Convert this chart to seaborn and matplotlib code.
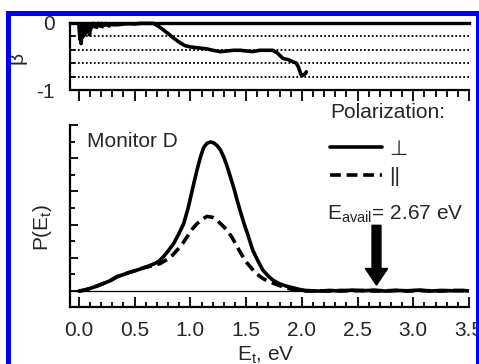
import numpy as np
import matplotlib
matplotlib.use("Agg")
import matplotlib.pyplot as plt
import seaborn as sns
from matplotlib.ticker import MultipleLocator, FormatStrFormatter, FixedLocator
from matplotlib.patches import Rectangle

# ---- data ----
# beta (anisotropy) vs E_t
e_beta = [0.00, 0.01, 0.015, 0.02, 0.025, 0.03, 0.035, 0.04, 0.045, 0.05, 0.055, 0.06,
          0.065, 0.07, 0.08, 0.09, 0.095, 0.10, 0.105, 0.11, 0.12, 0.13, 0.14, 0.15,
          0.16, 0.17, 0.18, 0.19, 0.20, 0.21, 0.22, 0.23, 0.24, 0.25, 0.26, 0.27, 0.28,
          0.30, 0.35, 0.40, 0.45, 0.50, 0.55, 0.60, 0.67, 0.72, 0.76, 0.80, 0.85, 0.90,
          0.95, 1.00, 1.05, 1.10, 1.15, 1.20, 1.27, 1.33, 1.39, 1.45, 1.50, 1.56, 1.62,
          1.68, 1.74, 1.78, 1.83, 1.88, 1.92, 1.95, 1.97, 1.99, 2.00, 2.02, 2.03, 2.04]
beta = [-0.05, -0.25, -0.02, -0.31, -0.10, -0.22, -0.03, -0.20, -0.05, -0.18, -0.02,
        -0.15, -0.04, -0.12, -0.02, -0.05, -0.18, -0.03, -0.10, -0.02, -0.04, -0.01,
        -0.06, -0.02, -0.07, -0.01, -0.03, -0.05, -0.01, -0.06, -0.02, -0.04, -0.01,
        -0.03, -0.02, -0.05, -0.02, -0.03, -0.03, -0.02, -0.015, -0.02, -0.01, -0.01,
        -0.01, -0.06, -0.11, -0.16, -0.23, -0.29, -0.34, -0.36, -0.37, -0.38, -0.39,
        -0.41, -0.43, -0.42, -0.41, -0.41, -0.42, -0.43, -0.41, -0.41, -0.41, -0.45,
        -0.53, -0.55, -0.58, -0.60, -0.66, -0.76, -0.79, -0.77, -0.76, -0.73]

# P(E_t), perpendicular polarization
e_perp = [0.00, 0.05, 0.10, 0.16, 0.22, 0.28, 0.34, 0.40, 0.46, 0.52, 0.58, 0.63, 0.68,
          0.72, 0.77, 0.81, 0.85, 0.90, 0.94, 0.98, 1.03, 1.06, 1.09, 1.12, 1.15, 1.18,
          1.21, 1.24, 1.27, 1.30, 1.33, 1.36, 1.39, 1.42, 1.45, 1.48, 1.52, 1.56, 1.60,
          1.65, 1.70, 1.74, 1.80, 1.86, 1.92, 1.98, 2.03, 2.08, 2.15, 2.25, 2.35, 2.45,
          2.55, 2.65, 2.75, 2.85, 2.95, 3.05, 3.15, 3.25, 3.35, 3.45, 3.50]
p_perp = [0.00, 0.03, 0.08, 0.15, 0.23, 0.31, 0.43, 0.50, 0.57, 0.63, 0.70, 0.76, 0.83,
          0.90, 1.08, 1.25, 1.43, 1.75, 2.03, 2.50, 3.23, 3.65, 4.03, 4.33, 4.45, 4.49,
          4.46, 4.38, 4.25, 4.03, 3.75, 3.43, 3.10, 2.73, 2.38, 2.05, 1.65, 1.23, 0.95,
          0.63, 0.45, 0.33, 0.22, 0.15, 0.10, 0.05, 0.02, 0.01, 0.00, 0.02, 0.00, 0.03,
          0.01, 0.03, 0.00, 0.02, 0.01, 0.03, 0.00, 0.02, 0.01, 0.02, 0.00]

# P(E_t), parallel polarization
e_par = [0.00, 0.05, 0.10, 0.16, 0.22, 0.28, 0.34, 0.40, 0.46, 0.52, 0.58, 0.63, 0.68,
         0.73, 0.79, 0.84, 0.88, 0.93, 0.97, 1.02, 1.06, 1.10, 1.15, 1.20, 1.24, 1.28,
         1.33, 1.38, 1.42, 1.46, 1.50, 1.55, 1.59, 1.65, 1.71, 1.77, 1.83, 1.88, 1.92,
         1.97, 2.01, 2.06, 2.15, 2.25, 2.35, 2.45, 2.55, 2.65, 2.75, 2.85, 2.95, 3.05,
         3.15, 3.25, 3.35, 3.45, 3.50]
p_par = [0.00, 0.03, 0.08, 0.15, 0.23, 0.31, 0.43, 0.50, 0.57, 0.63, 0.70, 0.74, 0.78,
         0.83, 0.95, 1.08, 1.23, 1.43, 1.63, 1.88, 2.03, 2.15, 2.25, 2.22, 2.13, 2.00,
         1.83, 1.58, 1.33, 1.10, 0.88, 0.68, 0.53, 0.38, 0.28, 0.20, 0.13, 0.08, 0.04,
         0.02, 0.01, 0.00, 0.01, 0.00, 0.02, 0.01, 0.02, 0.00, 0.01, 0.02, 0.00, 0.02,
         0.01, 0.00, 0.02, 0.01, 0.00]

beta_grid = [-0.2, -0.4, -0.6, -0.8]
e_avail = 2.67
arrow_top, arrow_tip = 1.98, 0.18

# ---- style ----
sns.set_style("white")
plt.rcParams['font.family'] = ['Liberation Sans', 'DejaVu Sans']
plt.rcParams['mathtext.default'] = 'regular'
plt.rcParams['axes.unicode_minus'] = False
fs = 15
lw_curve = 2.6

W, H = 479, 364
fig = plt.figure(figsize=(W / 100, H / 100), dpi=100)
fig.patch.set_facecolor("white")

def px(x0, y0, x1, y1):
    return [x0 / W, 1 - y1 / H, (x1 - x0) / W, (y1 - y0) / H]

ax_top = fig.add_axes(px(70, 22.7, 469, 90))
ax = fig.add_axes(px(70, 125, 469, 306.7))

# ---- top panel: beta ----
for y in beta_grid:
    ax_top.axhline(y, color="black", lw=1.3, ls=(0, (1, 1.2)), zorder=1)
sns.lineplot(x=e_beta, y=beta, ax=ax_top, color="black", lw=lw_curve,
             estimator=None, sort=False, clip_on=False, zorder=3)
ax_top.set_xlim(-0.08, 3.5)
ax_top.set_ylim(-1.0, 0.0)
ax_top.spines["right"].set_visible(False)
ax_top.spines["top"].set_linewidth(2.4)
ax_top.spines["left"].set_linewidth(1.6)
ax_top.spines["bottom"].set_linewidth(1.6)
for s in ax_top.spines.values():
    s.set_color("black")
ax_top.xaxis.set_major_locator(MultipleLocator(0.5))
ax_top.xaxis.set_minor_locator(MultipleLocator(0.1))
ax_top.tick_params(axis="x", which="major", direction="out", length=8, width=1.3,
                   bottom=True, labelbottom=False, color="black")
ax_top.tick_params(axis="x", which="minor", direction="out", length=5, width=1.3,
                   bottom=True, color="black")
ax_top.yaxis.set_major_locator(FixedLocator([-1, 0]))
ax_top.yaxis.set_minor_locator(FixedLocator(beta_grid))
ax_top.set_yticklabels(["-1", "0"])
ax_top.tick_params(axis="y", which="major", direction="in", length=6, width=1.3,
                   left=True, labelsize=fs, pad=11, color="black")
ax_top.tick_params(axis="y", which="minor", direction="in", length=3.6, width=1.3,
                   left=True, color="black")
ax_top.set_xlabel("")
ax_top.set_ylabel("")

# ---- bottom panel: P(E_t) ----
ax.axhline(0, color="black", lw=0.9, zorder=1)
sns.lineplot(x=e_perp, y=p_perp, ax=ax, color="black", lw=lw_curve,
             estimator=None, sort=False, label="\u22a5", zorder=3)
sns.lineplot(x=e_par, y=p_par, ax=ax, color="black", lw=lw_curve,
             linestyle=(0, (3.0, 1.6)), estimator=None, sort=False, label="||", zorder=3)
ax.arrow(e_avail, arrow_top, 0, arrow_tip - arrow_top, width=0.08, head_width=0.2,
         head_length=0.5, length_includes_head=True, color="black", zorder=4)
ax.set_xlim(-0.08, 3.5)
ax.set_ylim(-0.47, 5.0)
ax.spines["top"].set_visible(False)
ax.spines["right"].set_visible(False)
ax.spines["left"].set_linewidth(1.6)
ax.spines["bottom"].set_linewidth(1.6)
for s in ax.spines.values():
    s.set_color("black")
ax.xaxis.set_major_locator(MultipleLocator(0.5))
ax.xaxis.set_minor_locator(MultipleLocator(0.1))
ax.xaxis.set_major_formatter(FormatStrFormatter("%.1f"))
ax.tick_params(axis="x", which="major", direction="in", length=7, width=1.3,
               bottom=True, labelsize=fs, pad=10, color="black")
ax.tick_params(axis="x", which="minor", direction="in", length=3.6, width=1.3,
               bottom=True, color="black")
ax.yaxis.set_major_locator(MultipleLocator(1))
ax.yaxis.set_minor_locator(MultipleLocator(0.5))
ax.tick_params(axis="y", which="major", direction="in", length=6, width=1.3,
               left=True, labelleft=False, color="black")
ax.tick_params(axis="y", which="minor", direction="in", length=3.6, width=1.3,
               left=True, color="black")
ax.set_xlabel("")
ax.set_ylabel("")

leg = ax.legend(loc="upper left", bbox_to_anchor=(0.652, 0.92), frameon=False,
                fontsize=fs, handlelength=2.5, handletextpad=0.35, labelspacing=0.42,
                borderpad=0, borderaxespad=0)

fig.text(87 / W, 1 - 147.3 / H, "Monitor D", fontsize=fs, ha="left", va="baseline")
fig.text(330 / W, 1 - 118 / H, "Polarization:", fontsize=fs, ha="left", va="baseline")
fig.text(327 / W, 1 - 220 / H, "E$_{avail}$= 2.67 eV", fontsize=fs, ha="left",
         va="baseline")

# axis labels
fig.text(17.5 / W, 1 - 58 / H, "\u03b2", fontsize=fs, rotation=90, ha="center",
         va="center")
fig.text(42.5 / W, 1 - 227 / H, "P(E$_t$)", fontsize=fs, rotation=90, ha="center",
         va="center")
fig.text(266 / W, 1 - 361 / H, "E$_t$, eV", fontsize=fs, ha="center", va="baseline")

# blue frame
fig.add_artist(Rectangle((7.5 / W, -0.2), (478 - 7.5) / W, 0.2 + 1 - 12.5 / H,
                         transform=fig.transFigure, fill=False, edgecolor="#0000ff",
                         lw=3.6, zorder=10, clip_on=False))

fig.savefig("out.png", dpi=100, facecolor="white")
